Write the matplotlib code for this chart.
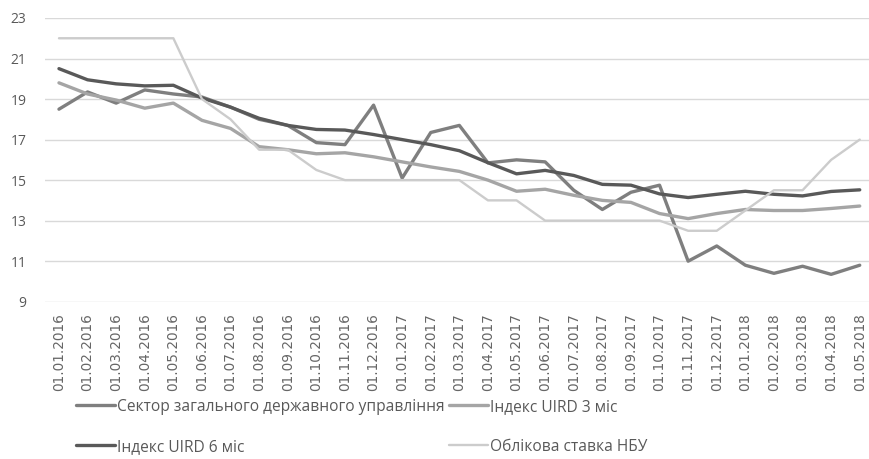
import matplotlib
matplotlib.use("Agg")
import matplotlib.pyplot as plt

# monthly dates on the category axis
dates = ["01.01.2016", "01.02.2016", "01.03.2016", "01.04.2016", "01.05.2016",
         "01.06.2016", "01.07.2016", "01.08.2016", "01.09.2016", "01.10.2016",
         "01.11.2016", "01.12.2016", "01.01.2017", "01.02.2017", "01.03.2017",
         "01.04.2017", "01.05.2017", "01.06.2017", "01.07.2017", "01.08.2017",
         "01.09.2017", "01.10.2017", "01.11.2017", "01.12.2017", "01.01.2018",
         "01.02.2018", "01.03.2018", "01.04.2018", "01.05.2018"]

# rates, %
sector = [18.5, 19.35, 18.8, 19.45, 19.25, 19.1, 18.6, 18.0, 17.7, 16.85,
          16.75, 18.7, 15.1, 17.35, 17.7, 15.85, 16.0, 15.9, 14.5, 13.55,
          14.4, 14.75, 11.0, 11.75, 10.8, 10.4, 10.75, 10.35, 10.8]
uird3 = [19.8, 19.25, 18.95, 18.55, 18.8, 17.95, 17.55, 16.65, 16.5, 16.3,
         16.35, 16.15, 15.9, 15.65, 15.43, 15.0, 14.45, 14.55, 14.25, 14.0,
         13.9, 13.35, 13.1, 13.35, 13.55, 13.5, 13.5, 13.6, 13.72]
uird6 = [20.5, 19.95, 19.75, 19.65, 19.68, 19.05, 18.6, 18.05, 17.7, 17.5,
         17.47, 17.25, 17.0, 16.75, 16.45, 15.86, 15.31, 15.48, 15.23, 14.79,
         14.75, 14.32, 14.14, 14.3, 14.45, 14.3, 14.22, 14.44, 14.52]
nbu = [22, 22, 22, 22, 22, 19, 18, 16.5, 16.5, 15.5,
       15, 15, 15, 15, 15, 14, 14, 13, 13, 13,
       13, 13, 12.5, 12.5, 13.5, 14.5, 14.5, 16, 17]

labels = ["Сектор загального державного управління", "Індекс UIRD 3 міс",
          "Індекс UIRD 6 міс", "Облікова ставка НБУ"]
yticks = [9, 11, 13, 15, 17, 19, 21, 23]

text_color = "#595959"

fig = plt.figure(figsize=(8.69, 4.59), dpi=100)
ax = fig.add_axes([0.0514, 0.3427, 0.9544, 0.6181])

x = list(range(len(dates)))
l1, = ax.plot(x, sector, color="#7f7f7f", lw=2.4, solid_capstyle="round")
l2, = ax.plot(x, uird3, color="#a5a5a5", lw=2.4, solid_capstyle="round")
l3, = ax.plot(x, uird6, color="#595959", lw=2.4, solid_capstyle="round")
l4, = ax.plot(x, nbu, color="#cccccc", lw=1.7, solid_capstyle="round")

ax.set_xlim(-0.5, len(dates) - 0.5)
ax.set_ylim(9, 23)
ax.set_yticks(yticks)
ax.set_yticklabels([str(v) for v in yticks], family="Open Sans", fontsize=10,
                   color=text_color)
ax.set_xticks(x)
ax.set_xticklabels(dates, rotation=90, family="DejaVu Sans", fontsize=9.8,
                   color="#666666")
ax.tick_params(axis="both", length=0)
ax.tick_params(axis="y", pad=13)
ax.tick_params(axis="x", pad=8)

ax.grid(axis="y", color="#d9d9d9", lw=1)
ax.set_axisbelow(True)
for s in ax.spines.values():
    s.set_visible(False)

# two rows: first row sector / UIRD 3, second row UIRD 6 / NBU
fig.legend([l1, l3, l2, l4], [labels[0], labels[2], labels[1], labels[3]],
           ncol=2, loc="lower left", bbox_to_anchor=(0.079, -0.008),
           frameon=False, prop={"family": "Open Sans", "size": 11.2},
           labelcolor=text_color, handlelength=2.5, handletextpad=0.1,
           columnspacing=0.3, labelspacing=1.55, borderpad=0.0)

fig.savefig("out.png", dpi=100)
